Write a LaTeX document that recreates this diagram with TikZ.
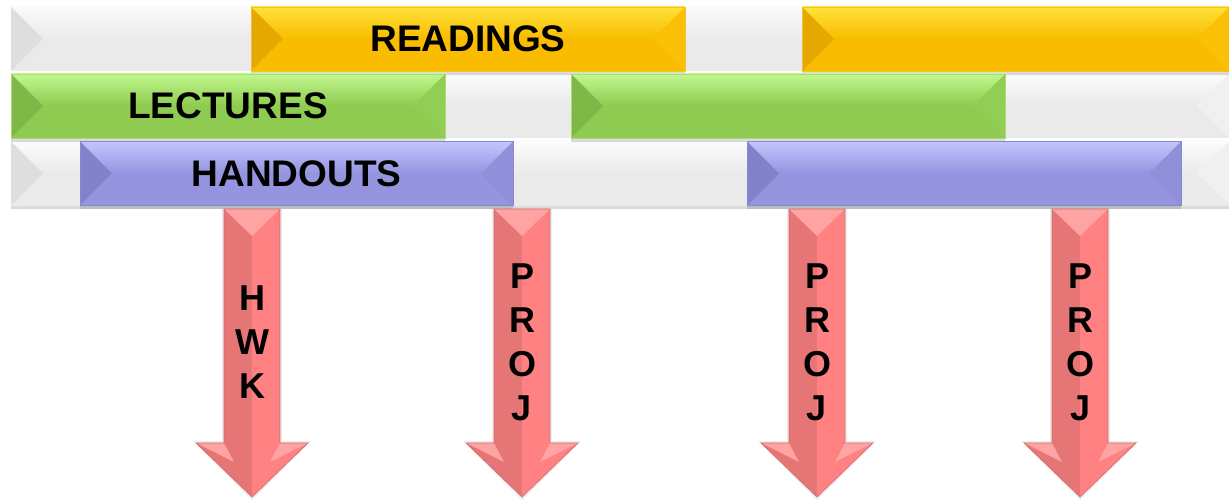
\documentclass[tikz,border=0pt]{standalone}
\usepackage{fontspec}
\setmainfont{Liberation Sans}
\usetikzlibrary{positioning}
\definecolor{greytop}{HTML}{FBFBFB}
\definecolor{greybase}{HTML}{EAEAEA}
\definecolor{greyleft}{HTML}{DEDEDE}
\definecolor{greyright}{HTML}{F0F0F0}
\definecolor{yeltop}{HTML}{FFE23A}
\definecolor{yelbase}{HTML}{F9BC00}
\definecolor{yelleft}{HTML}{E4A800}
\definecolor{yelright}{HTML}{FBC006}
\definecolor{yeledge}{HTML}{F2C430}
\definecolor{grntop}{HTML}{C2F78E}
\definecolor{grnbase}{HTML}{8ECB50}
\definecolor{grnleft}{HTML}{7EB846}
\definecolor{grnright}{HTML}{91CE53}
\definecolor{grnedge}{HTML}{A8DD72}
\definecolor{purtop}{HTML}{C4C4FF}
\definecolor{purbase}{HTML}{9494DF}
\definecolor{purleft}{HTML}{8282CA}
\definecolor{purright}{HTML}{9090DA}
\definecolor{puredge}{HTML}{8888D0}
\definecolor{pinkbase}{HTML}{FF8181}
\definecolor{pinkdark}{HTML}{E67575}
\definecolor{pinklight}{HTML}{FFA3A3}
\definecolor{pinkedge}{HTML}{D86A6A}
\tikzset{
  bevel/.style n args={4}{rectangle, inner sep=0pt, outer sep=0pt,
    minimum height=64pt, top color=#1, bottom color=#2, middle color=#2,
    path picture={
      \fill[#3] (path picture bounding box.north west)
        -- ([xshift=32pt]path picture bounding box.west)
        -- (path picture bounding box.south west) -- cycle;
      \fill[#4] (path picture bounding box.north east)
        -- ([xshift=-32pt]path picture bounding box.east)
        -- (path picture bounding box.south east) -- cycle;
    },
    font=\fontsize{37}{40}\selectfont\bfseries},
  barshadow/.style={preaction={fill=black, fill opacity=0.14,
    transform canvas={yshift=-4pt}}},
  greybar/.style={bevel={greytop}{greybase}{greyleft}{greyright},
    minimum width=1218pt},
  readbar/.style={bevel={yeltop}{yelbase}{yelleft}{yelright},
    draw=yeledge, line width=0.8pt, barshadow},
  lectbar/.style={bevel={grntop}{grnbase}{grnleft}{grnright},
    draw=grnedge, line width=0.8pt, barshadow},
  handbar/.style={bevel={purtop}{purbase}{purleft}{purright},
    draw=puredge, line width=0.8pt, barshadow},
  tasklabel/.style={align=center, inner sep=0pt,
    font=\fontsize{36}{44}\selectfont\bfseries}
}

\begin{document}
\begin{tikzpicture}[x=1pt, y=-1pt]
  \useasboundingbox (0,0) rectangle (1229,502);
  \clip (0,0) rectangle (1229,502);
  % grey rows behind
  \node [greybar] (row1) at (620,39) {};
  \node [greybar] (row2) at (620,106) {};
  \node [greybar, barshadow] (row3) at (620,173.5) {};
  % readings
  \node [readbar, minimum width=434pt] (read1) at (468,39) {READINGS};
  \node [readbar, minimum width=427pt] (read2) at (1015.5,39) {};
  % lectures
  \node [lectbar, minimum width=434pt] (lect1) at (228,106) {LECTURES};
  \node [lectbar, minimum width=434pt] (lect2) at (788,106) {};
  % handouts
  \node [handbar, minimum width=433pt] (hand1) at (296.5,173.5) {HANDOUTS};
  \node [handbar, minimum width=434pt] (hand2) at (964,173.5) {};
  % arrows down
  \foreach \cx/\nm/\txt in {252/hwk/{H\\W\\K}, 522/projA/{P\\R\\O\\J},
      817/projB/{P\\R\\O\\J}, 1080/projC/{P\\R\\O\\J}} {
    \fill[black, fill opacity=0.08] (\cx-30,209) -- (\cx+30,209)
      -- (\cx+30,441) -- (\cx+59,441) -- (\cx,500) -- (\cx-59,441)
      -- (\cx-30,441) -- cycle;
    \fill[pinkdark] (\cx-28,209) rectangle (\cx,443);
    \fill[pinkbase] (\cx,209) rectangle (\cx+28,443);
    \fill[pinklight] (\cx-28,209) -- (\cx+28,209) -- (\cx,236) -- cycle;
    \fill[pinkdark] (\cx-56,443) -- (\cx,443) -- (\cx,497) -- cycle;
    \fill[pinkbase] (\cx,443) -- (\cx+56,443) -- (\cx,497) -- cycle;
    \fill[pinklight] (\cx-56,443) -- (\cx-28,443) -- (\cx-18,462) -- cycle;
    \fill[pinklight] (\cx+56,443) -- (\cx+28,443) -- (\cx+18,462) -- cycle;
    \draw[pinkedge, line width=0.6pt] (\cx-28,209) -- (\cx+28,209)
      -- (\cx+28,443) -- (\cx+56,443) -- (\cx,497) -- (\cx-56,443)
      -- (\cx-28,443) -- cycle;
    \node [tasklabel] (\nm) at (\cx,342) {\txt};
  }
\end{tikzpicture}
\end{document}
